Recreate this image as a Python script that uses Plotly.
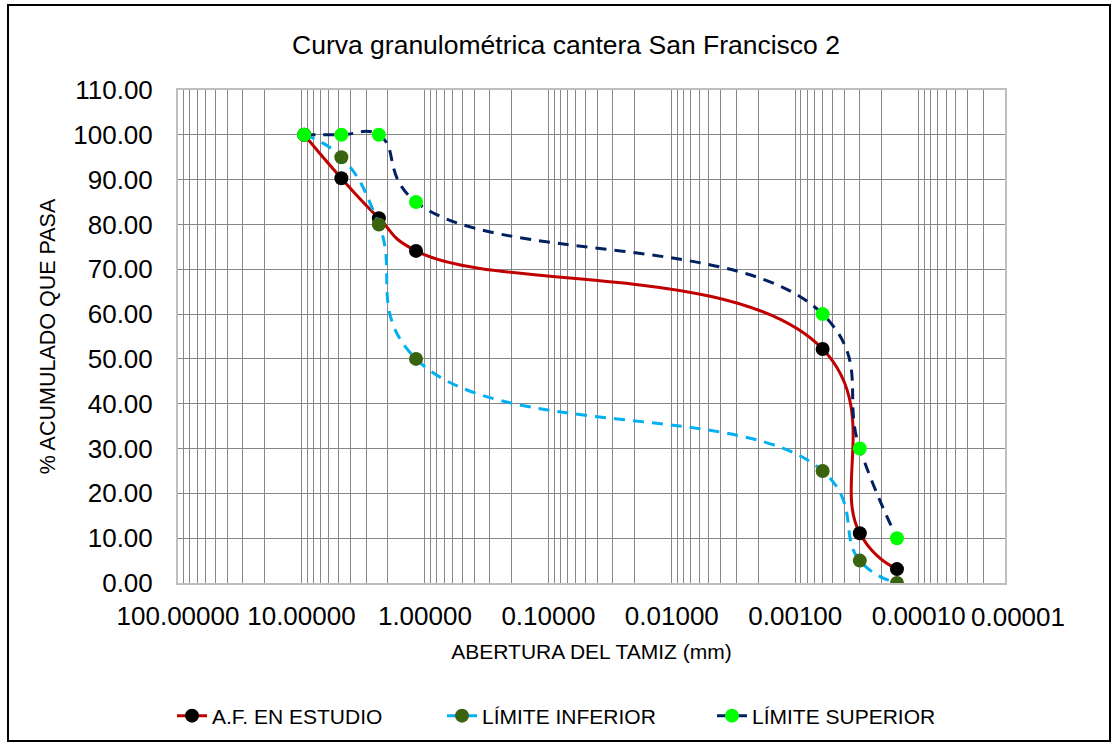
import math
import plotly.graph_objects as go

# ---- data ----
abertura_mm = [9.5, 4.75, 2.36, 1.18, 0.0006, 0.0003, 0.00015]
af_estudio = [100.0, 90.3, 81.4, 74.1, 52.2, 11.1, 3.1]
limite_inferior = [100, 95, 80, 50, 25, 5, 0]
limite_superior = [100, 100, 100, 85, 60, 30, 10]
x_tick_vals = [100, 10, 1, 0.1, 0.01, 0.001, 0.0001]
x_extra_label_val = 0.00001
y_tick_vals = list(range(0, 111, 10))
x_range_mm = [100, 0.00002]

FONT = "Liberation Sans, Arial, sans-serif"
GRID = "#878787"
SMOOTH = 1.3

fig = go.Figure()
fig.add_trace(go.Scatter(
    x=abertura_mm, y=af_estudio, name="A.F. EN ESTUDIO", mode="lines+markers",
    line=dict(color="#C00000", width=3, shape="spline", smoothing=SMOOTH),
    marker=dict(color="#000000", size=14)))
fig.add_trace(go.Scatter(
    x=abertura_mm, y=limite_inferior, name="LÍMITE INFERIOR", mode="lines+markers",
    line=dict(color="#00B0F0", width=3, dash="11px,8px", shape="spline", smoothing=SMOOTH),
    marker=dict(color="#3A6310", size=14)))
fig.add_trace(go.Scatter(
    x=abertura_mm, y=limite_superior, name="LÍMITE SUPERIOR", mode="lines+markers",
    line=dict(color="#002060", width=3, dash="11px,8px", shape="spline", smoothing=SMOOTH),
    marker=dict(color="#00FF00", size=14)))

W, H = 1117, 746
L, R, T, B = 178, 1005, 90, 583

fig.update_layout(
    width=W, height=H,
    margin=dict(l=L, r=W - R, t=T, b=H - B),
    paper_bgcolor="white", plot_bgcolor="white",
    font=dict(family=FONT, color="#000000"),
    title=dict(text="Curva granulométrica cantera San Francisco 2",
               font=dict(size=26.5, family=FONT, color="#000000"),
               x=566 / W, xref="container", xanchor="center",
               y=1 - 45 / H, yref="container", yanchor="middle"),
    showlegend=True,
    legend=dict(orientation="h", font=dict(size=21, family=FONT),
                xref="container", yref="container",
                x=172 / W, xanchor="left", y=1 - 716 / H, yanchor="middle",
                entrywidth=225, entrywidthmode="pixels",
                bgcolor="rgba(0,0,0,0)"),
)

x_log_range = [math.log10(v) for v in x_range_mm]
fig.update_xaxes(
    type="log", range=x_log_range,
    tickvals=x_tick_vals, tickformat=".5f",
    tickfont=dict(size=26, family=FONT), ticks="", ticklabelstandoff=9,
    showgrid=True, gridcolor=GRID, gridwidth=1.3,
    minor=dict(dtick="D1", showgrid=True, gridcolor=GRID, gridwidth=1.3, ticks=""),
    showline=True, linecolor="#bfbfbf", linewidth=2, mirror=True,
    zeroline=False,
    title=dict(text="ABERTURA DEL TAMIZ (mm)", font=dict(size=21, family=FONT), standoff=14),
)
fig.update_yaxes(
    range=[0, 110], tickvals=y_tick_vals, tickformat=".2f",
    tickfont=dict(size=26, family=FONT), ticks="", ticklabelstandoff=18,
    showgrid=True, gridcolor=GRID, gridwidth=1.3,
    showline=True, linecolor="#bfbfbf", linewidth=2, mirror=True,
    zeroline=False,
    title=dict(text="% ACUMULADO QUE PASA", font=dict(size=21.5, family=FONT), standoff=12),
)

# last decade label (beyond the plotted range, as in the original)
extra_paper_x = (x_log_range[0] - math.log10(x_extra_label_val)) / (x_log_range[0] - x_log_range[1])
fig.add_annotation(x=extra_paper_x, xref="paper", y=0, yref="paper",
                   text=f"{x_extra_label_val:.5f}", showarrow=False,
                   xanchor="center", yanchor="top",
                   xshift=-24, yshift=-17, font=dict(size=26, family=FONT))

# outer chart border
pw, ph = R - L, B - T
fig.add_shape(type="rect", xref="paper", yref="paper",
              x0=(8 - L) / pw, x1=(1110 - L) / pw,
              y0=(B - 741) / ph, y1=(B - 5) / ph,
              line=dict(color="#000000", width=2), fillcolor="rgba(0,0,0,0)", layer="below")

fig.write_html("out.html", config={"displayModeBar": False},
               post_script="document.body.style.margin='0px';document.body.style.overflow='hidden';")
